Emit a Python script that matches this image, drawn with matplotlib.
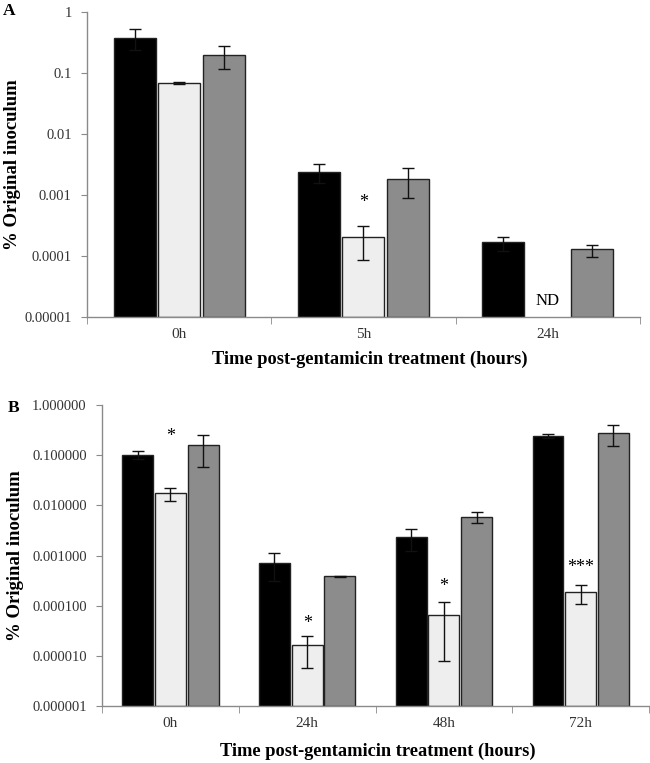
import numpy as np
import matplotlib
matplotlib.use("Agg")
import matplotlib.pyplot as plt

plt.rcParams["font.family"] = ["Liberation Serif", "DejaVu Serif"]

# panel A
times_a = ["0h", "5h", "24h"]
black_a = [0.38, 0.0024, 0.000162]
black_a_err = [0.14, 0.0008, 0.00004]
light_a = [0.068, 0.000197, np.nan]
light_a_err = [0.003, 0.00011, np.nan]
gray_a = [0.197, 0.00183, 0.000122]
gray_a_err = [0.08, 0.00095, 0.000027]
ticks_a = [1, 0.1, 0.01, 0.001, 0.0001, 0.00001]
tick_labels_a = ["1", "0.1", "0.01", "0.001", "0.0001", "0.00001"]
stars_a = [(1, 0.00075, "*")]
nd_a = [(2, 0.000018, "ND")]

# panel B
times_b = ["0h", "24h", "48h", "72h"]
black_b = [0.102, 0.00071, 0.00233, 0.24]
black_b_err = [0.02, 0.0004, 0.0011, 0.02]
light_b = [0.0174, 0.0000151, 0.000063, 0.000185]
light_b_err = [0.005, 0.0000095, 0.000055, 0.000077]
gray_b = [0.158, 0.000386, 0.00585, 0.275]
gray_b_err = [0.1, 0.000012, 0.0015, 0.125]
ticks_b = [1, 0.1, 0.01, 0.001, 0.0001, 0.00001, 0.000001]
tick_labels_b = ["1.000000", "0.100000", "0.010000", "0.001000",
                 "0.000100", "0.000010", "0.000001"]
stars_b = [(0, 0.24, "*"), (1, 0.000044, "*"), (2, 0.00024, "*"), (3, 0.00058, "***")]

colors = ["#000000", "#eeeeee", "#8c8c8c"]
axis_gray = "#8a8a8a"


def draw_panel(ax, times, series, errs, ticks, tick_labels, ymin, notes, width):
    x = np.arange(len(times))
    offsets = [-width - 0.013, 0, width + 0.013]
    for vals, err, off, col in zip(series, errs, offsets, colors):
        ax.bar(x + off, vals, width, color=col, edgecolor="#222222",
               linewidth=1.0, log=True, bottom=ymin, zorder=2)
        ax.errorbar(x + off, vals, yerr=err, fmt="none", ecolor="#111111",
                    elinewidth=1.0, capsize=4, capthick=1.0, zorder=3)
    for gi, yv, txt in notes:
        if txt == "ND":
            ax.text(gi, yv, txt, ha="center", va="center", fontsize=12)
        else:
            ax.text(gi, yv, txt, ha="center", va="center", fontsize=13)
    ax.set_yscale("log")
    ax.set_ylim(ymin, ticks[0])
    ax.set_xlim(-0.5, len(times) - 0.5)
    ax.set_yticks(ticks, tick_labels)
    ax.yaxis.set_minor_locator(matplotlib.ticker.NullLocator())
    ax.set_xticks(x, times)
    ax.set_xticks(np.arange(len(times) + 1) - 0.5, minor=True)
    ax.tick_params(axis="x", which="major", length=0, pad=8, labelsize=11,
                   colors="#333333")
    ax.tick_params(axis="x", which="minor", length=5, color=axis_gray,
                   direction="out")
    ax.tick_params(axis="y", length=4, color=axis_gray, labelsize=10.5,
                   labelcolor="#333333", pad=7)
    for s in ["top", "right"]:
        ax.spines[s].set_visible(False)
    for s in ["left", "bottom"]:
        ax.spines[s].set_color(axis_gray)
        ax.spines[s].set_linewidth(1.0)
    ax.set_xlabel("Time post-gentamicin treatment (hours)", fontsize=13.2,
                  fontweight="bold", va="center")
    ax.set_ylabel("% Original inoculum", fontsize=13.5, fontweight="bold",
                  va="center")


fig = plt.figure(figsize=(6.5, 7.63), dpi=100)

ax1 = fig.add_axes([0.1338, 0.5845, 0.8508, 0.3998])
draw_panel(ax1, times_a, [black_a, light_a, gray_a],
           [black_a_err, light_a_err, gray_a_err],
           ticks_a, tick_labels_a, 1e-5, stars_a + nd_a, 0.228)
ax1.yaxis.set_label_coords(-0.134, 0.5)
ax1.xaxis.set_label_coords(0.512, -0.138)

ax2 = fig.add_axes([0.1569, 0.0747, 0.8416, 0.3945])
draw_panel(ax2, times_b, [black_b, light_b, gray_b],
           [black_b_err, light_b_err, gray_b_err],
           ticks_b, tick_labels_b, 1e-6, stars_b, 0.226)
ax2.yaxis.set_label_coords(-0.159, 0.5)
ax2.xaxis.set_label_coords(0.505, -0.15)

fig.text(0.004, 0.996, "A", fontsize=12.5, fontweight="bold", va="top")
fig.text(0.012, 0.476, "B", fontsize=12.5, fontweight="bold", va="top")

fig.savefig("out.png", dpi=100)
